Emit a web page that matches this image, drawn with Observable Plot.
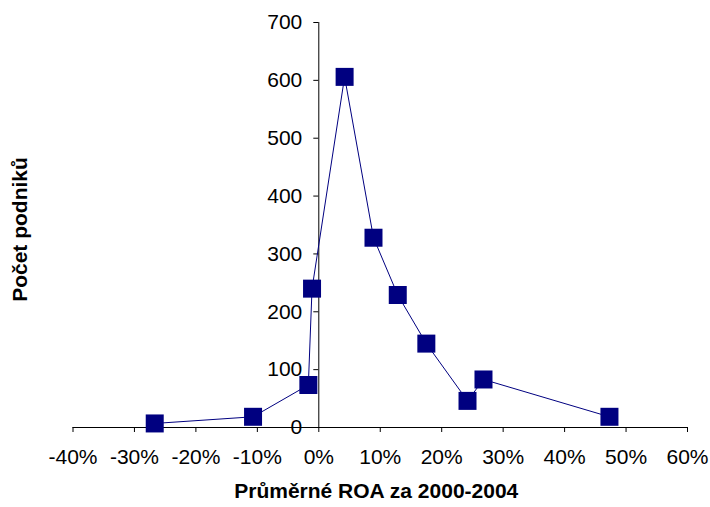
<!DOCTYPE html>
<html>
<head>
<meta charset="utf-8">
<script src="https://cdn.jsdelivr.net/npm/d3@7"></script>
<script src="https://cdn.jsdelivr.net/npm/@observablehq/plot@0.6"></script>
<style>
  html, body { margin: 0; padding: 0; background: #fff; }
  g[aria-label="ytitle"] text { letter-spacing: 0.7px; }
  g[aria-label="xtitle"] text { letter-spacing: 0.95px; }
</style>
</head>
<body>
<div id="chart"></div>
<script>
// Average ROA 2000-2004 (%) and number of firms
const roa    = [-26.7, -10.7, -1.7, -1.1, 4.2, 8.9, 12.85, 17.5, 24.2, 26.8, 47.3];
const counts = [7, 18.5, 73.5, 240, 606, 328, 229, 145, 46, 83, 18.5];
const xTicks = [-40, -30, -20, -10, 0, 10, 20, 30, 40, 50, 60];
const yTicks = [0, 100, 200, 300, 400, 500, 600, 700];
const xTitle = "Průměrné ROA za 2000-2004";
const yTitle = "Počet podniků";

const points = roa.map((x, i) => ({x, y: counts[i]}));
const navy = "#000080";

const chart = Plot.plot({
  width: 710,
  height: 507,
  marginLeft: 72.5,
  marginRight: 23,
  marginTop: 22,
  marginBottom: 80,
  style: {fontFamily: "Liberation Sans, Arial, sans-serif", fontSize: "21px", color: "black", background: "white"},
  x: {domain: [-40, 60]},
  y: {domain: [0, 700], axis: null},
  marks: [
    Plot.axisX({ticks: xTicks, tickSize: 5, tickPadding: 17, tickFormat: d => d + "%", label: null, fontSize: 21}),
    Plot.ruleY([0], {stroke: "black", strokeWidth: 1}),
    Plot.ruleX([0], {y1: 0, y2: 700, stroke: "black", strokeWidth: 1}),
    Plot.ruleY(yTicks, {y: d => d, x1: 0, x2: 0, insetLeft: -5, stroke: "black"}),
    Plot.text(yTicks, {x: 0, y: d => d, text: d => String(d), textAnchor: "end", dx: -16.5, fontSize: 21}),
    Plot.line(points, {x: "x", y: "y", stroke: navy, strokeWidth: 1}),
    Plot.dot(points, {x: "x", y: "y", symbol: "square", r: Math.sqrt(324 / Math.PI), fill: navy, stroke: "none"}),
    Plot.text([yTitle], {frameAnchor: "left", textAnchor: "middle", rotate: -90, dx: -53, dy: 4.5, fontWeight: "bold", fontSize: 21, ariaLabel: "ytitle"}),
    Plot.text([xTitle], {frameAnchor: "bottom", textAnchor: "middle", dy: 70.5, dx: -4, fontWeight: "bold", fontSize: 21, ariaLabel: "xtitle"})
  ]
});
document.getElementById("chart").appendChild(chart);
</script>
</body>
</html>
